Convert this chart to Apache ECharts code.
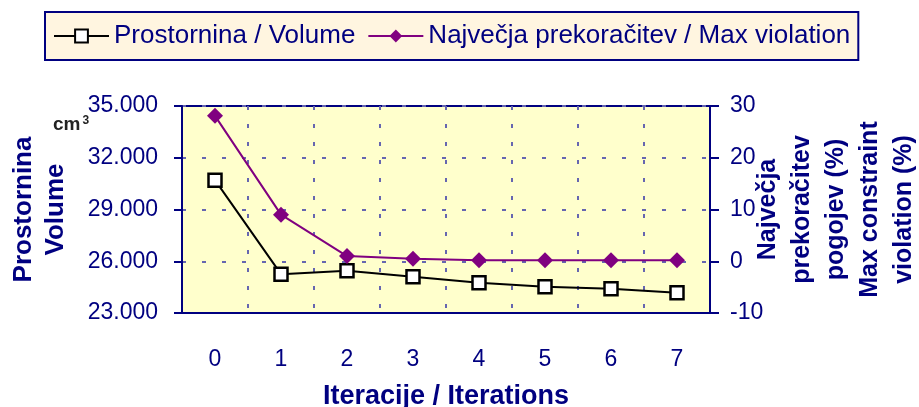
<!DOCTYPE html>
<html>
<head>
<meta charset="utf-8">
<script src="https://cdn.jsdelivr.net/npm/echarts@6/dist/echarts.min.js"></script>
<style>
  html, body { margin: 0; padding: 0; background: #fff; }
  #main { width: 919px; height: 407px; }
</style>
</head>
<body>
<div id="main"></div>
<script>
// iterations on x axis
var iterations = ['0', '1', '2', '3', '4', '5', '6', '7'];
// volume in cm3 (left axis)
var volume = [30700, 25250, 25450, 25100, 24760, 24520, 24410, 24180];
// max constraint violation in % (right axis)
var violation = [28.1, 9.0, 1.0, 0.5, 0.2, 0.2, 0.2, 0.2];
var volumeTicks = { min: 23000, max: 35000, step: 3000 };
var violationTicks = { min: -10, max: 30, step: 10 };

var navy = '#000080';
var font = "'Liberation Sans', Arial, sans-serif";

function dotThousands(v) {
    return String(v).replace(/\B(?=(\d{3})+(?!\d))/g, '.');
}

var myChart = echarts.init(document.getElementById('main'));
myChart.setOption({
    backgroundColor: '#ffffff',
    animation: false,
    textStyle: { fontFamily: font },
    legend: {
        left: 45,
        top: 12,
        padding: [11, 8, 11, 8],
        itemWidth: 55,
        itemHeight: 16,
        itemGap: 12,
        backgroundColor: '#FFF5E0',
        borderColor: navy,
        borderWidth: 2,
        textStyle: { color: navy, fontSize: 26, fontFamily: font },
        data: ['Prostornina / Volume', 'Največja prekoračitev / Max violation']
    },
    grid: {
        left: 182,
        right: 209,
        top: 106,
        bottom: 94,
        outerBoundsMode: 'none',
        containLabel: false,
        show: true,
        backgroundColor: '#FFFFCC',
        borderColor: navy,
        borderWidth: 2
    },
    graphic: [{
        type: 'text',
        left: 53,
        top: 115,
        style: {
            text: 'cm{sup|3}',
            fill: '#222',
            font: 'bold 19px ' + font,
            rich: {
                sup: { fontSize: 12, fontWeight: 'bold', verticalAlign: 'top', padding: [0, 0, 8, 2], fill: '#222' }
            }
        }
    }],
    xAxis: {
        type: 'category',
        data: iterations,
        name: 'Iteracije / Iterations',
        nameLocation: 'middle',
        nameGap: 70,
        nameMoveOverlap: false,
        nameTextStyle: { color: navy, fontSize: 27, fontWeight: 'bold', fontFamily: font },
        axisLine: { onZero: false, lineStyle: { color: navy, width: 2 } },
        axisTick: { length: 8, lineStyle: { color: navy, width: 2 } },
        axisLabel: { color: navy, fontSize: 23, margin: 35, fontFamily: font },
        splitLine: { show: true, lineStyle: { color: '#6666b0', width: 2, type: [4, 14] } }
    },
    yAxis: [{
        type: 'value',
        position: 'left',
        min: volumeTicks.min,
        max: volumeTicks.max,
        interval: volumeTicks.step,
        name: 'Prostornina\nVolume',
        nameLocation: 'middle',
        nameGap: 110,
        nameMoveOverlap: false,
        nameTextStyle: { color: navy, fontSize: 26, fontWeight: 'bold', lineHeight: 32, fontFamily: font },
        axisLine: { show: true, lineStyle: { color: navy, width: 2 } },
        axisTick: { show: true, length: 8, lineStyle: { color: navy, width: 2 } },
        axisLabel: { color: navy, fontSize: 23, margin: 24, fontFamily: font, formatter: dotThousands },
        splitLine: { show: true, lineStyle: { color: '#6666b0', width: 2, type: [4, 16] } }
    }, {
        type: 'value',
        position: 'right',
        min: violationTicks.min,
        max: violationTicks.max,
        interval: violationTicks.step,
        name: 'Največja\nprekoračitev\npogojev (%)\nMax constraint\nviolation (%)',
        nameLocation: 'middle',
        nameGap: 41,
        nameMoveOverlap: false,
        nameTextStyle: { color: navy, fontSize: 25, fontWeight: 'bold', lineHeight: 34, fontFamily: font },
        axisLine: { show: true, lineStyle: { color: navy, width: 2 } },
        axisTick: { show: true, length: 9, lineStyle: { color: navy, width: 2 } },
        axisLabel: { color: navy, fontSize: 23, margin: 20, fontFamily: font },
        splitLine: { show: false }
    }],
    series: [{
        name: 'Prostornina / Volume',
        type: 'line',
        yAxisIndex: 0,
        data: volume,
        symbol: 'rect',
        symbolSize: 13,
        showAllSymbol: true,
        lineStyle: { color: '#000', width: 2 },
        itemStyle: { color: '#fff', borderColor: '#000', borderWidth: 2.5 }
    }, {
        name: 'Največja prekoračitev / Max violation',
        type: 'line',
        yAxisIndex: 1,
        data: violation,
        symbol: 'diamond',
        symbolSize: 16,
        showAllSymbol: true,
        lineStyle: { color: '#800080', width: 2 },
        itemStyle: { color: '#800080' }
    }]
});
</script>
</body>
</html>
